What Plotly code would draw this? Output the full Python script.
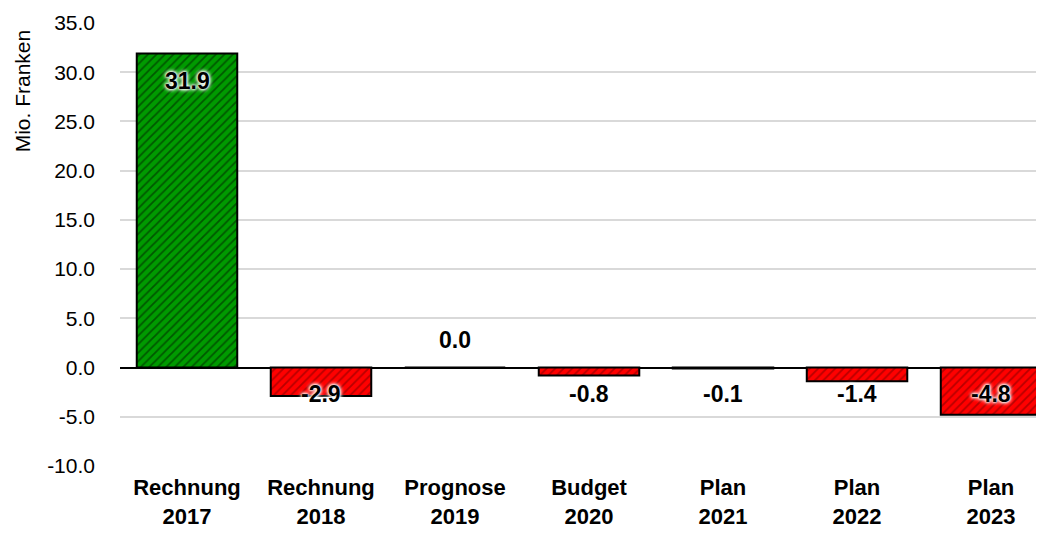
import plotly.graph_objects as go

categories = ["Rechnung<br>2017", "Rechnung<br>2018", "Prognose<br>2019", "Budget<br>2020",
              "Plan<br>2021", "Plan<br>2022", "Plan<br>2023"]
values = [31.9, -2.9, 0.0, -0.8, -0.1, -1.4, -4.8]
y_ticks = [-10, -5, 0, 5, 10, 15, 20, 25, 30, 35]
y_ticktext = [f"{v:.1f}" for v in y_ticks]

GREEN, GREEN_D = "#009a00", "#005800"
RED, RED_D = "#ff0000", "#b80000"

FONT = "Liberation Sans, Arial, sans-serif"

pos_x = [c for c, v in zip(categories, values) if v > 0]
pos_y = [v for v in values if v > 0]
neg_x = [c for c, v in zip(categories, values) if v <= 0]
neg_y = [v for v in values if v <= 0]

fig = go.Figure()
for xs, ys, col, fg in [(pos_x, pos_y, GREEN, GREEN_D), (neg_x, neg_y, RED, RED_D)]:
    fig.add_trace(go.Bar(
        x=xs, y=ys, width=0.75,
        marker=dict(color=col, line=dict(color="black", width=2),
                    pattern=dict(shape="/", fillmode="replace", fgcolor=fg, bgcolor=col,
                                 fgopacity=1, size=6, solidity=0.3)),
        hoverinfo="skip",
    ))

# data labels (Excel style positions)
for c, v in zip(categories, values):
    if v > 5:
        ly = v - 2.8
    elif v == 0:
        ly = 2.75
    else:
        ly = -2.7
    fig.add_annotation(x=c, y=ly, text=f"{v:.1f}", showarrow=False,
                       font=dict(family=FONT, size=23, color="black", weight="bold",
                                 shadow="0px 0px 2px white, 0px 0px 3px white, 0px 0px 4px white, 0px 0px 5px white"))

fig.add_annotation(text="Mio. Franken", textangle=-90, showarrow=False,
                   xref="paper", yref="paper", x=-0.105, y=0.846,
                   xanchor="center", yanchor="middle",
                   font=dict(family=FONT, size=21, color="black"))

fig.update_layout(
    width=1044, height=540,
    margin=dict(l=112, r=0, t=15, b=82),
    plot_bgcolor="white", paper_bgcolor="white",
    showlegend=False, barmode="overlay",
    font=dict(family=FONT, color="black"),
    xaxis=dict(range=[-0.5, 6.455], categoryorder="array", categoryarray=categories,
               showgrid=False, showline=False, zeroline=False,
               tickfont=dict(size=22, weight="bold"), ticks="outside", ticklen=2, tickcolor="white"),
    yaxis=dict(range=[-10, 35], tickvals=y_ticks, ticktext=y_ticktext,
               showgrid=True, gridcolor="#d9d9d9", gridwidth=2,
               zeroline=True, zerolinecolor="black", zerolinewidth=2,
               tickfont=dict(size=21), ticklabelstandoff=24),
)

fig.write_html("out.html")
